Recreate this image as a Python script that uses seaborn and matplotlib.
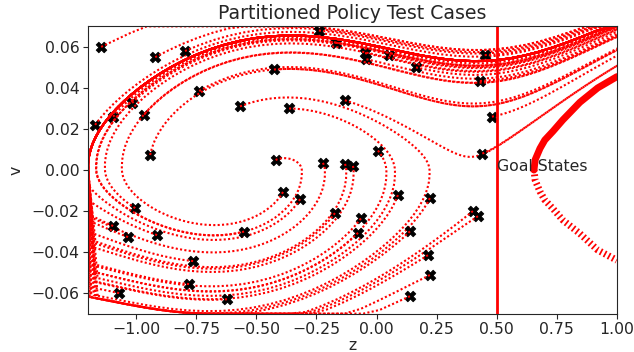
import numpy as np
import pandas as pd
import matplotlib
matplotlib.use("Agg")
import matplotlib.pyplot as plt
import seaborn as sns

# ---- data ----
# start states (position z, velocity v) of the test cases (black X markers)
start_z = [-1.146, -1.171, -1.096, -1.017, -0.967, -0.921, -0.797, -0.738, -0.942, -0.568,
           -0.427, -0.364, -0.240, -0.169, -0.132, -0.048, -0.042, 0.052, 0.164, 0.450,
           0.430, 0.480, 0.440, -0.420, -0.223, -0.131, -0.098, 0.006, -0.389, -0.318,
           -0.173, 0.089, 0.222, -0.065, -0.077, 0.139, 0.401, 0.422, 0.214, 0.222,
           0.139, -1.004, -1.096, -1.034, -0.913, -0.551, -0.763, -0.780, -1.071, -0.622]
start_v = [0.060, 0.022, 0.026, 0.0327, 0.027, 0.055, 0.058, 0.0385, 0.0073, 0.031,
           0.049, 0.030, 0.068, 0.062, 0.034, 0.057, 0.054, 0.056, 0.050, 0.056,
           0.0434, 0.026, 0.008, 0.0049, 0.0035, 0.003, 0.002, 0.0095, -0.0107, -0.0142,
           -0.021, -0.0122, -0.0137, -0.0236, -0.0306, -0.0299, -0.020, -0.0225, -0.0415, -0.0512,
           -0.0615, -0.0186, -0.0273, -0.0327, -0.0317, -0.030, -0.0444, -0.0556, -0.060, -0.063]

# goal-state boundary curve
goal_z = [0.655, 0.66, 0.68, 0.70, 0.735, 0.775, 0.846, 0.92, 1.0]
goal_v_upper = [0.0, 0.005, 0.0105, 0.0146, 0.019, 0.0244, 0.033, 0.040, 0.0455]
goal_v_lower = [0.0, -0.005, -0.0105, -0.0146, -0.019, -0.0244, -0.031, -0.039, -0.044]
goal_position = 0.5

x_ticks = [-1.00, -0.75, -0.50, -0.25, 0.00, 0.25, 0.50, 0.75, 1.00]
y_ticks = [-0.06, -0.04, -0.02, 0.00, 0.02, 0.04, 0.06]

# ---- mountain-car dynamics used to roll out each test case ----
FORCE, GRAVITY, MAX_SPEED, MIN_POS, END_POS = 0.001, 0.0025, 0.07, -1.2, 1.05


def rollout(z, v):
    zs, vs = [z], [v]
    for _ in range(2000):
        a = 1.0 if v >= 0 else -1.0
        v_new = v + a * FORCE - GRAVITY * np.cos(3 * z)
        v_new = min(max(v_new, -MAX_SPEED), MAX_SPEED)
        z = z + v
        v = v_new
        if z <= MIN_POS:
            z = MIN_POS
            if v < 0:
                v = 0.0
        zs.append(z)
        vs.append(v)
        if z > END_POS:
            break
    return zs, vs


sns.set_style("ticks")
base = 11.3
plt.rcParams['font.family'] = ['DejaVu Sans']
plt.rcParams['font.size'] = base

fig = plt.figure(figsize=(6.34, 3.52), dpi=100)
ax = fig.add_axes([0.139, 0.109, 0.834, 0.816])

for i, (z0, v0) in enumerate(zip(start_z, start_v)):
    zs, vs = rollout(z0, v0)
    sns.scatterplot(x=[z0], y=[v0], marker='X', s=60, color='black',
                    edgecolor='black', linewidth=0.5, ax=ax, zorder=2, legend=False)
    sns.lineplot(x=zs, y=vs, sort=False, estimator=None, color='red',
                 lw=1.5, ls=(0, (1, 1.1)), ax=ax, zorder=2)

ax.axvline(goal_position, color='red', lw=2, zorder=2)
sns.lineplot(x=goal_z, y=goal_v_upper, sort=False, estimator=None, color='red',
             lw=5, ax=ax, zorder=2)
sns.lineplot(x=goal_z, y=goal_v_lower, sort=False, estimator=None, color='red',
             lw=5, ls=(0, (0.25, 0.4)), ax=ax, zorder=2)
ax.text(goal_position, 0.0015, "Goal States", ha='left', va='center', fontsize=base)

ax.set_xlim(-1.2, 1.0)
ax.set_ylim(-0.07, 0.07)
ax.set_xticks(x_ticks)
ax.set_yticks(y_ticks)
ax.tick_params(labelsize=base, pad=2.5)
ax.set_xlabel("z", fontsize=base, labelpad=1)
ax.set_ylabel("v", fontsize=base, labelpad=6)
ax.set_title("Partitioned Policy Test Cases", fontsize=base * 1.2, pad=5)

fig.savefig("out.png", dpi=100)
